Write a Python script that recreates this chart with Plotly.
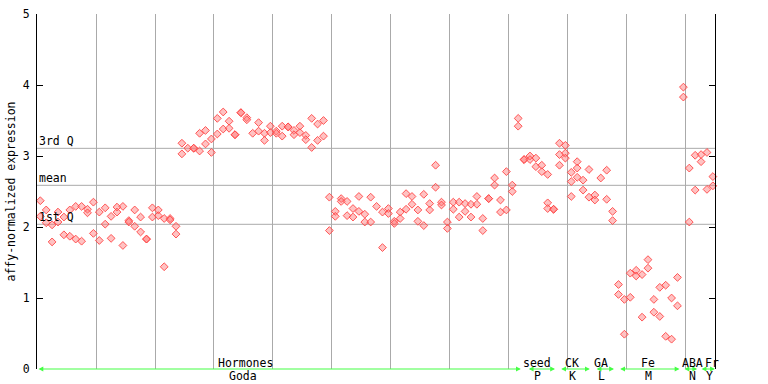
import plotly.graph_objects as go

# ---- data (slot index along x, expression value) ----
slot_values = [
    [2.37, 2.15], [2.24, 2.06], [2.03, 1.79], [2.21, 2.07], [2.14, 1.89],
    [2.24, 1.87], [2.29, 1.83], [2.29, 1.80], [2.25, 2.20], [2.35, 1.91],
    [2.21, 1.81], [2.27, 2.04], [2.15, 1.84], [2.28, 2.21], [2.29, 1.74],
    [2.09, 2.07], [2.24, 2.01], [2.14, 1.93], [1.83, 1.83], [2.27, 2.14],
    [2.24, 2.16], [2.12, 1.44], [2.12, 2.10], [2.01, 1.90], [3.18, 3.03],
    [3.11], [3.11, 3.11], [3.32, 3.07], [3.36, 3.17], [3.24, 3.05],
    [3.53, 3.31], [3.62, 3.38], [3.49, 3.39], [3.30, 3.30], [3.61, 3.61],
    [3.54, 3.51], [3.32], [3.47, 3.35], [3.32, 3.22], [3.42, 3.33],
    [3.35, 3.32], [3.42, 3.28], [3.41, 3.41], [3.36, 3.30], [3.42, 3.33],
    [3.29, 3.23], [3.53, 3.12], [3.45, 3.22], [3.50, 3.28], [2.42, 1.95],
    [2.22, 2.15], [2.40, 2.36], [2.36, 2.16], [2.26, 2.14], [2.43, 2.22],
    [2.18, 2.07], [2.42, 2.07], [2.29], [2.21, 1.71], [2.26, 2.19],
    [2.08, 2.05], [2.21, 2.12], [2.47, 2.25], [2.43, 2.32], [2.24, 2.08],
    [2.46, 2.02], [2.33, 2.24], [2.87, 2.56], [2.35, 2.31], [2.07, 1.98],
    [2.35, 2.25], [2.35, 2.14], [2.33, 2.22], [2.32, 2.14], [2.43, 2.32],
    [2.12, 1.95], [2.40, 2.40], [2.69, 2.59], [2.38, 2.21], [2.78, 2.24],
    [2.59, 2.50], [3.53, 3.42], [2.95, 2.95], [3.00, 2.95], [2.97, 2.85],
    [2.87, 2.78], [2.74, 2.34, 2.26], [2.25, 2.25], [3.18, 3.02, 2.87],
    [3.15, 3.04, 2.97], [2.77, 2.64, 2.43], [2.92, 2.83, 2.70], [2.66, 2.52],
    [2.81, 2.42], [2.45, 2.38], [2.69], [2.80, 2.39], [2.22, 2.09],
    [1.19, 1.05], [0.98, 0.49], [1.35, 1.01], [1.39, 1.31], [1.33, 0.73],
    [1.54, 1.42], [0.98, 0.80], [1.15, 0.74], [1.18, 0.46], [1.00, 0.42],
    [1.29, 0.89], [3.97, 3.83], [2.83, 2.07], [3.01, 2.52], [3.02, 2.92],
    [3.05, 2.53], [2.71, 2.58],
]

stat_names = ["3rd Q", "mean", "1st Q"]
stat_values = [3.108, 2.587, 2.038]

group_names = ["Hormones", "seed", "CK", "GA", "Fe", "ABA", "Fr"]
group_codes = ["Goda", "P", "K", "L", "M", "N", "Y"]
group_start = [0.0, 83.1, 88.6, 94.6, 98.6, 109.5, 112.4]
group_end = [82.0, 87.8, 93.7, 97.8, 108.9, 111.9, 114.9]

y_ticks = [0, 1, 2, 3, 4, 5]

# ---- layout constants ----
W, H = 768, 384
L, R, T, B = 37, 53, 14, 15
XMAX = 114.92
PX_PER = (W - L - R) / XMAX
FONT = "DejaVu Sans Mono"
FS = 11.5
name_px = [245, 537, 572, 601, 648, 692, 712]
code_px = [243, 537, 572, 601, 648, 692, 709]

xs, ys = [], []
for k, vals in enumerate(slot_values):
    for v in vals:
        xs.append(k + 0.56)
        ys.append(v)

fig = go.Figure()
fig.add_trace(go.Scatter(
    x=xs, y=ys, mode="markers",
    marker=dict(symbol="diamond", size=6, color="rgba(255,120,120,0.45)",
                line=dict(color="rgba(255,70,70,0.9)", width=1)),
    hoverinfo="x+y", showlegend=False, cliponaxis=False,
))

shapes = []
for v in stat_values:
    shapes.append(dict(type="line", xref="paper", x0=0, x1=1, yref="y", y0=v, y1=v,
                       line=dict(color="#aaaaaa", width=1), layer="below"))

ann = []
for n, v in zip(stat_names, stat_values):
    ann.append(dict(text=n, xref="paper", x=0, xanchor="left", xshift=0,
                    yref="y", y=v, yanchor="bottom", yshift=-2, showarrow=False,
                    font=dict(family=FONT, size=FS, color="black")))

plot_h = H - T - B
for n, c, s, e, npx, cpx in zip(group_names, group_codes, group_start, group_end, name_px, code_px):
    ann.append(dict(text="", x=e, y=0, xref="x", yref="y", ax=s, ay=0,
                    axref="x", ayref="y", showarrow=True, arrowside="end+start",
                    arrowhead=2, arrowsize=0.8, arrowwidth=1.2, arrowcolor="#44ff44"))
    ann.append(dict(text=n, x=(npx - L) / PX_PER, xref="x", y=(369 - 363) / plot_h,
                    yref="paper", xanchor="center", yanchor="middle", showarrow=False,
                    font=dict(family=FONT, size=FS, color="black")))
    ann.append(dict(text=c, x=(cpx - L) / PX_PER, xref="x", y=(369 - 376) / plot_h,
                    yref="paper", xanchor="center", yanchor="middle", showarrow=False,
                    font=dict(family=FONT, size=FS, color="black")))

ann.append(dict(text="affy-normalized expression", textangle=-90,
                xref="paper", x=(10 - L) / (W - L - R), xanchor="center",
                yref="paper", y=0.5, yanchor="middle", showarrow=False,
                font=dict(family=FONT, size=FS, color="black")))

fig.update_layout(
    width=W, height=H,
    margin=dict(l=L, r=R, t=T, b=B, pad=0, autoexpand=False),
    paper_bgcolor="white", plot_bgcolor="white",
    shapes=shapes, annotations=ann,
    xaxis=dict(range=[0, XMAX], showgrid=True, gridcolor="#aaaaaa", gridwidth=1,
               tick0=0, dtick=10, showticklabels=False, ticks="", zeroline=False,
               showline=False, fixedrange=True, automargin=False),
    yaxis=dict(range=[0, 5], tickvals=y_ticks, ticks="inside", ticklen=6,
               tickcolor="black", showline=True, linecolor="black", linewidth=1,
               mirror="ticks", showgrid=False, zeroline=False,
               tickfont=dict(family=FONT, size=FS, color="black"),
               ticklabelstandoff=4, fixedrange=True, automargin=False),
    showlegend=False,
)

fig.write_html(
    "out.html",
    config={"displayModeBar": False},
    post_script="document.body.style.margin='0';document.body.style.padding='0';",
)
